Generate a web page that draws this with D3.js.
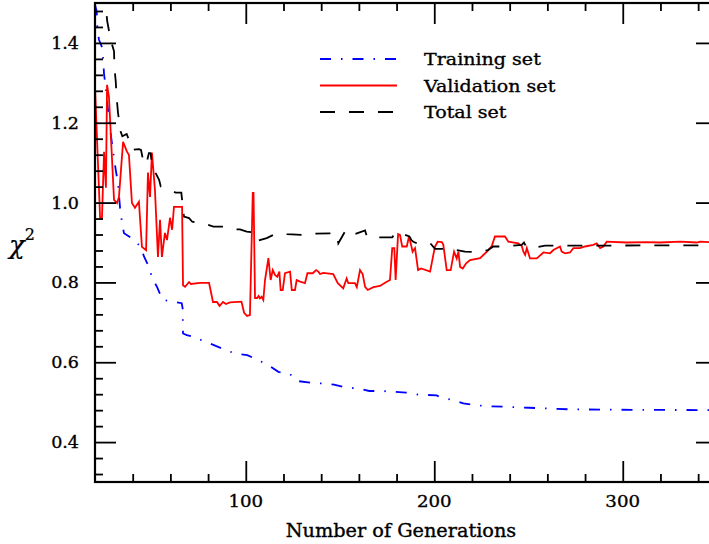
<!DOCTYPE html>
<html>
<head>
<meta charset="utf-8">
<script src="https://cdn.jsdelivr.net/npm/d3@7"></script>
<style>
  body { margin: 0; background: #fff; }
  svg { display: block; }
  text { font-family: "DejaVu Serif", serif; fill: #000; stroke: #000; stroke-width: 0.35px; }
</style>
</head>
<body>
<div id="chart"></div>
<script>
// [generation, chi^2]
const trainingSet = [
  [20, 1.496], [20.9, 1.479], [21.2, 1.442], [22.1, 1.408], [23.9, 1.387], [24.4, 1.354],
  [24.8, 1.321], [25.7, 1.291], [26.2, 1.262], [28.3, 1.174], [29.2, 1.141], [31.0, 1.082],
  [32.2, 1.049], [33.3, 0.986], [34.5, 0.944], [35.4, 0.923], [39.3, 0.911], [44.2, 0.890],
  [46.0, 0.865], [48.6, 0.839], [50.5, 0.809], [52.9, 0.789], [55.8, 0.756], [61.5, 0.752],
  [66.0, 0.748], [66.5, 0.735], [66.7, 0.672], [68.7, 0.668], [72.2, 0.664], [77.5, 0.653],
  [83.1, 0.643], [88.6, 0.632], [94.3, 0.622], [100.8, 0.618], [106.7, 0.605], [112.0, 0.593],
  [117.3, 0.576], [123.5, 0.570], [127.3, 0.553], [134.1, 0.549], [140.3, 0.547], [146.8, 0.544],
  [153.0, 0.537], [159.7, 0.534], [165.5, 0.528], [172.1, 0.528], [178.6, 0.526], [185.0, 0.524],
  [191.5, 0.519], [201.3, 0.517], [203.1, 0.512], [210.1, 0.505], [215.4, 0.497], [222.5, 0.492],
  [228.7, 0.490], [250.3, 0.486], [272, 0.482], [298.6, 0.481], [350, 0.480]
];

const validationSet = [
  [20, 1.29], [22.7, 0.962], [23.7, 0.962], [24.8, 1.127], [25.8, 1.037], [26.4, 1.295],
  [27.4, 1.265], [30.1, 1.007], [31.7, 0.999], [32.7, 1.014], [34.9, 1.152], [37.0, 1.127],
  [38.0, 1.120], [39.6, 0.999], [41.2, 0.987], [43.3, 1.002], [44.9, 0.889], [47.1, 0.881],
  [48.1, 1.075], [49.2, 1.014], [50.2, 1.125], [51.8, 1.032], [53.4, 0.864], [54.5, 0.957],
  [55.5, 0.864], [57.1, 0.924], [58.2, 0.906], [59.8, 0.962], [60.9, 0.932], [61.9, 0.989],
  [66.2, 0.989], [66.7, 0.793], [67.8, 0.789], [69.9, 0.801], [70.9, 0.796], [75.7, 0.799],
  [80.5, 0.799], [82.6, 0.751], [84.7, 0.751], [86.1, 0.741], [87.9, 0.751], [89.5, 0.746],
  [91.6, 0.750], [97.7, 0.752], [99.1, 0.724], [100.7, 0.716], [102.2, 0.718], [103.7, 1.024],
  [104.1, 1.024], [104.9, 0.761], [106.0, 0.761], [106.8, 0.766], [107.5, 0.760], [108.4, 0.764],
  [109.3, 0.756], [110.2, 0.806], [112.0, 0.861], [113.2, 0.806], [114.3, 0.831], [115.5, 0.819],
  [116.7, 0.814], [117.8, 0.827], [118.5, 0.781], [119.6, 0.781], [120.8, 0.823], [123.5, 0.827],
  [124.4, 0.781], [126.1, 0.781], [127.0, 0.806], [128.8, 0.802], [131.4, 0.798], [132.7, 0.823],
  [135.5, 0.823], [137.3, 0.831], [138.5, 0.827], [139.4, 0.821], [141.1, 0.824], [146.4, 0.821],
  [148.8, 0.798], [151.7, 0.785], [153.5, 0.810], [154.4, 0.798], [157.9, 0.798], [158.9, 0.788],
  [160.6, 0.831], [162.0, 0.821], [163.3, 0.789], [164.7, 0.781], [167.7, 0.788], [171.2, 0.791],
  [173.9, 0.799], [176.5, 0.806], [177.7, 0.886], [178.8, 0.886], [179.5, 0.806], [180.8, 0.921],
  [181.8, 0.919], [183.0, 0.890], [185.4, 0.890], [186.6, 0.915], [187.7, 0.894], [188.5, 0.877],
  [189.8, 0.886], [191.4, 0.831], [193.0, 0.835], [197.8, 0.827], [199.5, 0.869], [200.4, 0.890],
  [201.8, 0.902], [204.0, 0.901], [204.8, 0.894], [206.6, 0.831], [208.7, 0.831], [210.5, 0.877],
  [211.9, 0.860], [212.8, 0.877], [213.7, 0.839], [215.1, 0.835], [216.9, 0.848], [219.0, 0.856],
  [224.3, 0.861], [227.0, 0.873], [228.7, 0.881], [230.5, 0.891], [232.2, 0.915], [237.5, 0.915],
  [239.3, 0.902], [244.6, 0.898], [246.4, 0.891], [247.3, 0.877], [248.2, 0.869], [249.1, 0.886],
  [250.8, 0.860], [254.4, 0.860], [257.9, 0.875], [261.4, 0.873], [263.2, 0.881], [266.7, 0.890],
  [267.6, 0.877], [269.4, 0.873], [272.0, 0.875], [273.8, 0.886], [277.3, 0.886], [280.0, 0.890],
  [284.4, 0.894], [286.2, 0.898], [288.0, 0.886], [289.7, 0.890], [291.5, 0.902], [302.1, 0.900],
  [312.7, 0.901], [319.8, 0.900], [330.4, 0.902], [339.3, 0.900], [341.0, 0.902], [350, 0.900]
];

const totalSet = [
  [20, 1.609], [25.3, 1.509], [26.5, 1.454], [28.3, 1.408], [30.1, 1.379], [30.3, 1.338],
  [31.0, 1.304], [31.5, 1.263], [32.2, 1.225], [33.6, 1.178], [34.5, 1.166], [36.8, 1.172],
  [39.0, 1.145], [39.8, 1.132], [43.3, 1.134], [44.4, 1.132], [46.0, 1.095], [47.4, 1.100],
  [48.6, 1.124], [49.5, 1.124], [50.4, 1.090], [54.0, 1.057], [54.9, 1.040], [57.5, 1.036],
  [62.8, 1.025], [65.8, 1.025], [66.3, 1.003], [67.2, 0.965], [69.9, 0.961], [71.6, 0.952],
  [80.1, 0.944], [82.8, 0.940], [88.1, 0.940], [93.1, 0.933], [96.9, 0.933], [100.5, 0.927],
  [103.3, 0.926], [104.4, 0.906], [106.7, 0.905], [111.1, 0.911], [114.6, 0.919], [117.3, 0.923],
  [121.7, 0.921], [129.7, 0.919], [134.1, 0.919], [136.7, 0.922], [144.7, 0.923], [148.2, 0.923],
  [149.1, 0.898], [152.6, 0.927], [154.4, 0.933], [156.5, 0.930], [157.9, 0.921], [163.3, 0.930],
  [164.2, 0.915], [166.8, 0.913], [176.0, 0.913], [177.7, 0.913], [179.2, 0.923], [180.4, 0.927],
  [186.8, 0.915], [188.0, 0.905], [188.9, 0.902], [190.7, 0.898], [197.7, 0.899], [200.4, 0.884],
  [208.4, 0.884], [216.3, 0.877], [224.3, 0.876], [228.5, 0.881], [231.3, 0.890], [237.5, 0.890],
  [246.4, 0.894], [247.6, 0.900], [248.7, 0.890], [251.7, 0.886], [258.8, 0.892], [350, 0.893]
];

const xMajorTicks = [100, 200, 300];
const yMajorTicks = [0.4, 0.6, 0.8, 1.0, 1.2, 1.4];
const legendLabels = ["Training set", "Validation set", "Total set"];
const xTitle = "Number of Generations";

const width = 709, height = 544;
const plot = { left: 95, right: 717, top: 3, bottom: 482 };

const svg = d3.select("#chart").append("svg")
  .attr("width", width)
  .attr("height", height);

const x = d3.scaleLinear().domain([20, 350]).range([plot.left, plot.right]);
const y = d3.scaleLinear().domain([0.3, 1.5]).range([plot.bottom, plot.top]);

const xMinorTicks = d3.range(40, 350, 20).filter((v) => v % 100 !== 0);
const yMinorTicks = d3.range(0.32, 1.5, 0.04).filter((v) => Math.abs(v * 5 - Math.round(v * 5)) > 1e-6);

svg.append("defs").append("clipPath").attr("id", "clip")
  .append("rect")
  .attr("x", plot.left).attr("y", plot.top)
  .attr("width", plot.right - plot.left).attr("height", plot.bottom - plot.top);

const line = d3.line().x((d) => x(d[0])).y((d) => y(d[1]));

const series = [
  { data: trainingSet, color: "#0000ff", dash: "11,10,1.5,10", width: 1.8 },
  { data: validationSet, color: "#ff0000", dash: null, width: 1.8 },
  { data: totalSet, color: "#000000", dash: "15,14", width: 1.8 },
];

const lines = svg.append("g").attr("clip-path", "url(#clip)");
series.forEach((s) => {
  lines.append("path")
    .datum(s.data)
    .attr("fill", "none")
    .attr("stroke", s.color)
    .attr("stroke-width", s.width)
    .attr("stroke-dasharray", s.dash)
    .attr("d", line);
});

// axes: inward ticks on all four sides
function tickAxis(axis, values, size, transform) {
  const g = svg.append("g")
    .attr("transform", transform)
    .call(axis.tickValues(values).tickSize(-size).tickFormat(""));
  g.select(".domain").remove();
  g.selectAll(".tick line").attr("stroke", "#000").attr("stroke-width", 1.8);
  return g;
}
const majorLen = 21, minorLen = 8;
tickAxis(d3.axisBottom(x), xMajorTicks, majorLen, `translate(0,${plot.bottom})`);
tickAxis(d3.axisBottom(x), xMinorTicks, minorLen, `translate(0,${plot.bottom})`);
tickAxis(d3.axisTop(x), xMajorTicks, majorLen, `translate(0,${plot.top})`);
tickAxis(d3.axisTop(x), xMinorTicks, minorLen, `translate(0,${plot.top})`);
tickAxis(d3.axisLeft(y), yMajorTicks, majorLen, `translate(${plot.left},0)`);
tickAxis(d3.axisLeft(y), yMinorTicks, minorLen, `translate(${plot.left},0)`);
tickAxis(d3.axisRight(y), yMajorTicks, majorLen, `translate(${plot.right},0)`);
tickAxis(d3.axisRight(y), yMinorTicks, minorLen, `translate(${plot.right},0)`);

svg.append("rect")
  .attr("x", plot.left).attr("y", plot.top)
  .attr("width", plot.right - plot.left).attr("height", plot.bottom - plot.top)
  .attr("fill", "none").attr("stroke", "#000").attr("stroke-width", 2.2);

// the plot font is wider than DejaVu Serif, stretch each label a bit
function widen(sel, factor) {
  sel.each(function () {
    const w = this.getComputedTextLength();
    d3.select(this).attr("textLength", w * factor).attr("lengthAdjust", "spacingAndGlyphs");
  });
}

// tick labels
svg.append("g").selectAll("text")
  .data(xMajorTicks)
  .join("text")
  .attr("x", (d) => x(d))
  .attr("y", 507)
  .attr("text-anchor", "middle")
  .attr("font-size", 17.5)
  .text((d) => d)
  .call(widen, 1.04);

svg.append("g").selectAll("text")
  .data(yMajorTicks)
  .join("text")
  .attr("x", 79)
  .attr("y", (d) => y(d) + 6)
  .attr("text-anchor", "end")
  .attr("font-size", 17.5)
  .text((d) => d.toFixed(1))
  .call(widen, 1.0);

// axis titles
svg.append("text")
  .attr("x", 401)
  .attr("y", 537)
  .attr("text-anchor", "middle")
  .attr("font-size", 18)
  .text(xTitle)
  .call(widen, 1.07);

const yTitle = svg.append("text")
  .attr("x", 9)
  .attr("y", 254)
  .attr("font-size", 26)
  .attr("font-style", "italic")
  .style("stroke-width", "0.2px");
yTitle.append("tspan").text("χ");
yTitle.append("tspan").attr("dy", -14).attr("font-size", 16).attr("font-style", "normal").text("2");

// legend
const legend = svg.append("g");
legendLabels.forEach((label, i) => {
  const ly = 59 + i * 26.5;
  const s = series[i];
  legend.append("line")
    .attr("x1", 320).attr("x2", 397)
    .attr("y1", ly).attr("y2", ly)
    .attr("stroke", s.color)
    .attr("stroke-width", s.width)
    .attr("stroke-dasharray", s.dash);
  legend.append("text")
    .attr("x", 424)
    .attr("y", ly + 6)
    .attr("font-size", 17)
    .text(label)
    .call(widen, 1.12);
});
</script>
</body>
</html>
